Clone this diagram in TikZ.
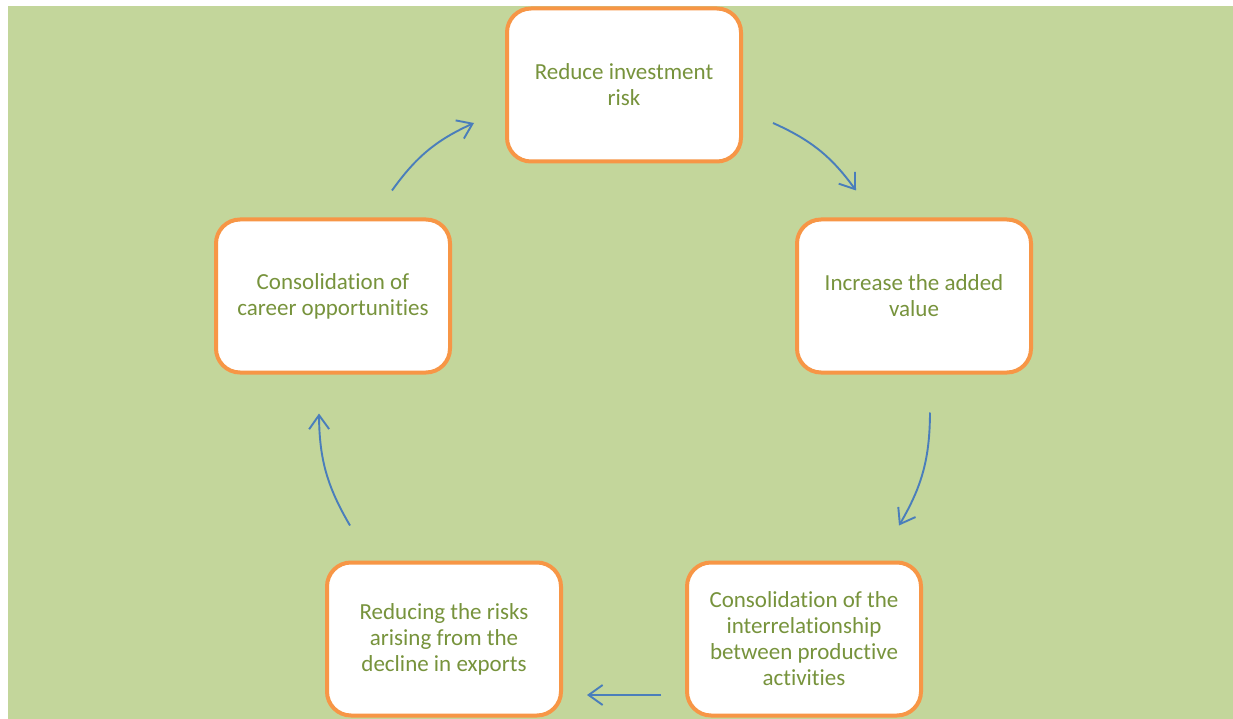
\documentclass[tikz,border=0pt]{standalone}
\usepackage{fontspec}
\setmainfont[Ligatures=NoCommon]{Carlito}
\usepackage{xcolor}
\usetikzlibrary{arrows.meta, calc, positioning}

\definecolor{bggreen}{HTML}{C3D69B}
\definecolor{boxorange}{HTML}{F79646}
\definecolor{txtgreen}{HTML}{77933C}
\definecolor{arrowblue}{HTML}{4A7EBB}

\begin{document}
\begin{tikzpicture}[x=1pt, y=-1pt,
        stage/.style={draw=boxorange, line width=4pt, fill=white, rounded corners=24pt,
            minimum width=234pt, minimum height=153pt, align=center, text=txtgreen,
            font=\fontsize{23}{26}\selectfont},
        flow/.style={draw=arrowblue, line width=1.9pt, -{Straight Barb[length=14pt, width=20pt]}}]

    \useasboundingbox (0, 0) rectangle (1233, 719);
    \fill[bggreen] (8, 6) rectangle (1233, 719);

    \node[stage] (reduce) at (624, 85) {Reduce investment\\risk};
    \node[stage] (added) at (914, 296) {Increase the added\\value};
    \node[stage] (interrel) at (804, 639) {Consolidation of the\\interrelationship\\between productive\\activities};
    \node[stage] (exports) at (444, 639) {Reducing the risks\\arising from the\\decline in exports};
    \node[stage] (career) at (333, 296) {Consolidation of\\career opportunities};

    % cycle
    \draw[flow] ($(reduce.east)+(30, 38)$) to[bend left=15] ($(added.north)+(-58, -27)$);
    \draw[flow] ($(added.south)+(16, 38)$) to[bend left=15] ($(interrel.north)+(95, -35)$);
    \draw[flow] ($(interrel.west)+(-24, 56)$) -- ($(exports.east)+(24, 56)$);
    \draw[flow] ($(exports.north)+(-94, -35)$) to[bend left=15] ($(career.south)+(-14, 39)$);
    \draw[flow] ($(career.north)+(59, -27)$) to[bend left=15] ($(reduce.west)+(-31, 38)$);
\end{tikzpicture}
\end{document}
